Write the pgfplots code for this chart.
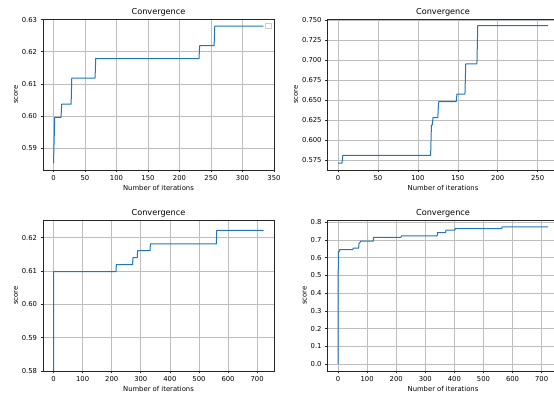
\documentclass[border=0pt]{standalone}
\usepackage{fontspec}
\setmainfont{DejaVu Sans}
\usepackage{pgfplots}
\pgfplotsset{compat=1.18}
\definecolor{mplblue}{HTML}{1F77B4}
\definecolor{gridc}{RGB}{190,190,190}
\pgfplotsset{
  conv/.style={
    scale only axis,
    width=231bp, height=151bp,
    anchor=south west,
    title={Convergence},
    xlabel={Number of iterations},
    ylabel={score},
    title style={font=\fontsize{8.2}{9}\selectfont, inner sep=1.5bp, yshift=-5bp},
    label style={font=\fontsize{6.85}{8}\selectfont},
    tick label style={font=\fontsize{6.85}{8}\selectfont},
    xlabel style={inner sep=1bp, yshift=0bp},
    ylabel style={inner sep=1bp, yshift=-0.5bp},
    /pgf/number format/assume math mode=true,
    grid=major,
    major grid style={gridc, line width=0.55bp},
    axis line style={line width=0.55bp, black!85},
    tick align=outside,
    major tick length=2.4bp,
    tick style={line width=0.55bp, black!85},
    xtick pos=left, ytick pos=left,
    scaled ticks=false,
    xticklabel style={/pgf/number format/fixed, /pgf/number format/precision=0},
    clip=true,
  },
  line/.style={mplblue, line width=1bp, no marks, line join=round},
}
\begin{document}
\begin{tikzpicture}
% Plot 1
\begin{axis}[conv, at={(43bp,223bp)},
  xmin=-16.65, xmax=350, ymin=0.5832, ymax=0.6302,
  xtick={0,50,...,350}, ytick={0.59,0.60,0.61,0.62,0.63},
  yticklabel style={/pgf/number format/fixed, /pgf/number format/fixed zerofill, /pgf/number format/precision=2}]
\addplot[line] coordinates {
(0,0.5853) (2,0.5996) (12,0.5996) (13,0.6037) (28,0.6037) (29,0.6118)
(66,0.6118) (67,0.6179) (231,0.6179) (232,0.6219) (255,0.6219) (256,0.6280) (333,0.6280)};
\draw[black!20, fill=white, line width=0.4bp] (rel axis cs:0.964,0.938) rectangle (rel axis cs:0.986,0.9715);
\end{axis}
% Plot 2
\begin{axis}[conv, at={(327.5bp,223bp)},
  xmin=-13.15, xmax=276.15, ymin=0.5629, ymax=0.7514,
  xtick={0,50,...,250}, ytick={0.575,0.600,0.625,0.650,0.675,0.700,0.725,0.750},
  yticklabel style={/pgf/number format/fixed, /pgf/number format/fixed zerofill, /pgf/number format/precision=3}]
\addplot[line] coordinates {
(0,0.5715) (5,0.5715) (6,0.5812) (116,0.5812) (117,0.6190) (118,0.6190) (119,0.6283)
(125,0.6283) (126,0.6481) (148,0.6481) (149,0.6577) (159,0.6577) (160,0.6955)
(174,0.6955) (175,0.7430) (263,0.7430)};
\end{axis}
% Plot 3
\begin{axis}[conv, at={(43bp,22bp)},
  xmin=-36.1, xmax=758.1, ymin=0.58, ymax=0.6253,
  xtick={0,100,...,700}, ytick={0.58,0.59,0.60,0.61,0.62},
  yticklabel style={/pgf/number format/fixed, /pgf/number format/fixed zerofill, /pgf/number format/precision=2}]
\addplot[line] coordinates {
(0,0.56) (0.5,0.6098) (215,0.6098) (216,0.6119) (272,0.6119) (273,0.6140)
(288,0.6140) (289,0.6161) (332,0.6161) (333,0.6181) (560,0.6181) (561,0.6222) (722,0.6222)};
\end{axis}
% Plot 4
\begin{axis}[conv, at={(327.5bp,22bp)},
  xmin=-36.1, xmax=758.1, ymin=-0.0387, ymax=0.8125,
  xtick={0,100,...,700}, ytick={0,0.1,...,0.8},
  yticklabel style={/pgf/number format/fixed, /pgf/number format/fixed zerofill, /pgf/number format/precision=1}]
\addplot[line] coordinates {
(0,0) (1,0.6355) (5,0.6355) (6,0.645) (51,0.645) (52,0.654) (71,0.654)
(72,0.679) (75,0.685) (78,0.693) (121,0.693) (122,0.715) (217,0.715) (218,0.7234)
(341,0.7234) (342,0.742) (370,0.742) (371,0.7551) (402,0.7551) (403,0.7645)
(563,0.7645) (564,0.7738) (722,0.7738)};
\end{axis}
\pgfresetboundingbox
\useasboundingbox (0bp,0bp) rectangle (554bp,393bp);
\end{tikzpicture}
\end{document}
